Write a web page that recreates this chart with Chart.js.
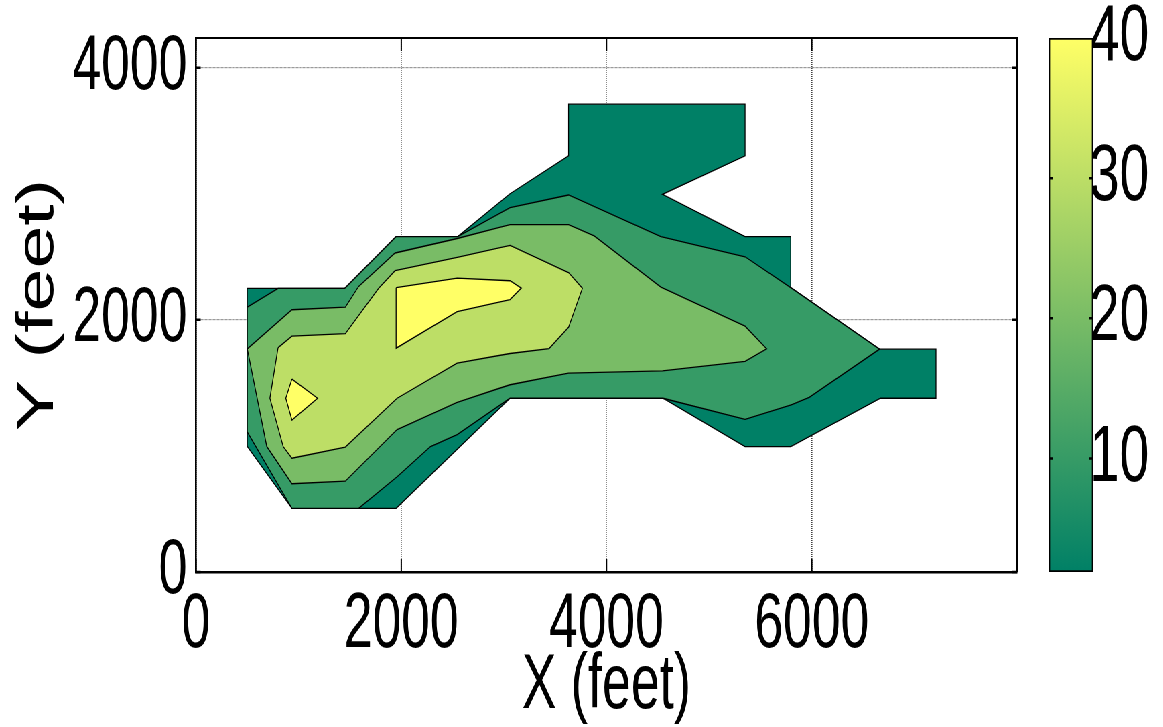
<!DOCTYPE html>
<html>
<head>
<meta charset="utf-8">
<script src="https://cdn.jsdelivr.net/npm/chart.js@4.4.1/dist/chart.umd.min.js"></script>
<style>
  html { margin: 0; padding: 0; background: #fff; overflow: hidden; width: 1163px; height: 727px; }
  body { margin: 0; padding: 0; background: #fff; width: 1163px; height: 727px; position: relative; }
  /* The figure is laid out wide and squeezed horizontally, giving the tall, narrow lettering */
  #figure { position: absolute; left: 0; top: 0; width: 1736px; height: 727px;
            transform: scaleX(0.67); transform-origin: 0 0; }
  #mainBox { position: absolute; left: 0; top: 0; width: 1540px; height: 727px; }
  #barBox  { position: absolute; left: 1540px; top: 0; width: 196px; height: 727px; }
</style>
</head>
<body>
<div id="figure">
  <div id="mainBox"><canvas id="main" width="1540" height="727"></canvas></div>
  <div id="barBox"><canvas id="cbar" width="196" height="727"></canvas></div>
</div>
<script>
// Axis limits and ticks
const X_RANGE = [0, 8000];
const Y_RANGE = [0, 4235];
const X_TICKS = [0, 2000, 4000, 6000];
const Y_TICKS = [0, 2000, 4000];
const CBAR_RANGE = [1.9, 40];
const CBAR_TICKS = [10, 20, 30, 40];

// Filled contour regions (x, y in feet). Each region holds every value at or above its level,
// so they are painted lowest level first.
const regionLevel1 = [
  [500, 2250], [1450, 2250], [1950, 2660], [2550, 2660], [3060, 3000], [3630, 3300],
  [3630, 3710], [5350, 3710], [5350, 3300], [4545, 2995], [5350, 2660], [5795, 2660],
  [5795, 2255], [6660, 1767], [7210, 1767], [7210, 1378], [6670, 1378], [5795, 995],
  [5350, 995], [4550, 1378], [3060, 1378], [1950, 505], [935, 505], [500, 995]
];
const regionLevel2 = [
  [500, 2100], [800, 2250], [1450, 2250], [1950, 2660], [2550, 2660], [3060, 2890],
  [3630, 2990], [4530, 2660], [5350, 2500], [5795, 2255], [6660, 1767], [5975, 1385],
  [5800, 1325], [5350, 1210], [4550, 1378], [3060, 1378], [2545, 1090], [2285, 995],
  [1960, 755], [1585, 505], [935, 505], [500, 1110]
];
const regionLevel3 = [
  [500, 1770], [935, 2080], [1455, 2100], [1585, 2265], [1940, 2530], [2545, 2645],
  [3060, 2755], [3630, 2755], [3880, 2665], [4530, 2260], [5350, 1950], [5560, 1770],
  [5350, 1670], [4545, 1595], [3630, 1577], [3060, 1485], [2545, 1345], [1960, 1130],
  [1455, 720], [935, 700], [690, 995]
];
const regionLevel4 = [
  [800, 1780], [935, 1870], [1455, 1890], [1780, 2250], [1940, 2390], [2545, 2495],
  [3060, 2590], [3630, 2375], [3765, 2250], [3630, 1940], [3440, 1772], [3060, 1733],
  [2545, 1656], [1960, 1378], [1455, 990], [935, 902], [850, 994], [720, 1378]
];
const regionPeakNorth = [
  [1950, 2255], [2545, 2330], [3060, 2310], [3170, 2252], [3060, 2160], [2545, 2065], [1950, 1775]
];
const regionPeakWest = [
  [935, 1530], [1185, 1378], [935, 1205], [875, 1378]
];

// summer colormap: r = t, g = 0.5 + t/2, b = 0.4
function summer(t) {
  return 'rgb(' + Math.round(255 * t) + ',' + Math.round(128 + 127 * t) + ',102)';
}
const REGION_COLORS = [summer(0), summer(0.213), summer(0.475), summer(0.74), summer(1)];

const regions = [
  { pts: regionLevel1, color: REGION_COLORS[0] },
  { pts: regionLevel2, color: REGION_COLORS[1] },
  { pts: regionLevel3, color: REGION_COLORS[2] },
  { pts: regionLevel4, color: REGION_COLORS[3] },
  { pts: regionPeakNorth, color: REGION_COLORS[4] },
  { pts: regionPeakWest, color: REGION_COLORS[4] }
];

const FONT = "'Liberation Sans', Arial, Helvetica, sans-serif";
Chart.defaults.font.family = FONT;
Chart.defaults.color = '#000';

// Closed outlines with their insides filled
const datasets = regions.map((r, i) => ({
  data: r.pts.concat([r.pts[0]]).map(p => ({ x: p[0], y: p[1] })),
  backgroundColor: r.color,
  borderColor: '#000',
  borderWidth: 1.3,
  fill: 'shape',
  pointRadius: 0,
  pointHoverRadius: 0,
  tension: 0,
  order: regions.length - i
}));

// Keep the plot box exactly where the layout padding puts it
function pinVertical(width) {
  return s => { s.width = width; s.paddingTop = 0; s.paddingBottom = 0; };
}
function pinHorizontal(height) {
  return s => { s.height = height; s.paddingLeft = 0; s.paddingRight = 0; };
}

// Box edges on top/right and MATLAB-style inward tick marks
const boxTicks = {
  id: 'boxTicks',
  afterDraw(chart) {
    const { ctx, chartArea: a, scales } = chart;
    const x = scales.x, y = scales.y;
    ctx.save();
    ctx.strokeStyle = '#000';
    ctx.lineWidth = 2;
    ctx.beginPath(); ctx.moveTo(a.left, a.top); ctx.lineTo(a.right + 1, a.top); ctx.stroke();
    ctx.lineWidth = 2.6;
    ctx.beginPath(); ctx.moveTo(a.right, a.top); ctx.lineTo(a.right, a.bottom); ctx.stroke();
    ctx.lineWidth = 2;
    X_TICKS.concat([X_RANGE[1]]).forEach(v => {
      const px = x.getPixelForValue(v);
      ctx.beginPath();
      ctx.moveTo(px, a.top); ctx.lineTo(px, a.top + 13);
      ctx.moveTo(px, a.bottom); ctx.lineTo(px, a.bottom - 13);
      ctx.stroke();
    });
    ctx.lineWidth = 2.5;
    Y_TICKS.forEach(v => {
      const py = y.getPixelForValue(v);
      ctx.beginPath();
      ctx.moveTo(a.left, py); ctx.lineTo(a.left + 7, py);
      ctx.moveTo(a.right, py); ctx.lineTo(a.right - 7, py);
      ctx.stroke();
    });
    ctx.restore();
  }
};

new Chart(document.getElementById('main'), {
  type: 'line',
  data: { datasets },
  plugins: [boxTicks],
  options: {
    responsive: false,
    animation: false,
    events: [],
    layout: { padding: { top: 38, right: 22, bottom: 0, left: 0 } },
    plugins: { legend: { display: false }, tooltip: { enabled: false } },
    scales: {
      x: {
        type: 'linear',
        position: 'bottom',
        min: X_RANGE[0],
        max: X_RANGE[1],
        z: 1,
        afterBuildTicks: s => { s.ticks = X_TICKS.map(v => ({ value: v })); },
        afterFit: pinHorizontal(155),
        ticks: {
          font: { size: 77, lineHeight: 1 },
          padding: 15,
          maxRotation: 0,
          autoSkip: false,
          callback: v => String(v)
        },
        grid: { color: 'rgba(0,0,0,0.75)', lineWidth: 1.6, drawTicks: false },
        border: { display: true, color: '#000', width: 2.4, dash: [1, 1] },
        title: {
          display: true,
          text: 'X (feet)',
          font: { size: 77, lineHeight: 1 },
          padding: { top: 0, bottom: 2 }
        }
      },
      y: {
        type: 'linear',
        position: 'left',
        min: Y_RANGE[0],
        max: Y_RANGE[1],
        z: 1,
        afterBuildTicks: s => { s.ticks = Y_TICKS.map(v => ({ value: v })); },
        afterFit: pinVertical(292.5),
        ticks: {
          font: { size: 77, lineHeight: 1 },
          padding: 13,
          autoSkip: false,
          callback: v => String(v)
        },
        grid: { color: 'rgba(0,0,0,0.65)', lineWidth: 1.2, drawTicks: false },
        border: { display: true, color: '#000', width: 2.6, dash: [1, 1] },
        title: {
          display: true,
          text: 'Y (feet)',
          font: { size: 77, lineHeight: 1 },
          padding: { top: 19, bottom: 0 }
        }
      }
    }
  }
});

// Colour bar: one floating bar spanning the data range, shaded with the colormap
const cbarTicks = {
  id: 'cbarTicks',
  afterDraw(chart) {
    const { ctx, chartArea: a, scales } = chart;
    ctx.save();
    ctx.strokeStyle = '#000';
    ctx.lineWidth = 2.5;
    CBAR_TICKS.forEach(v => {
      if (v >= CBAR_RANGE[1]) return;
      const py = scales.y.getPixelForValue(v);
      ctx.beginPath();
      ctx.moveTo(a.left, py); ctx.lineTo(a.left + 6, py);
      ctx.moveTo(a.right, py); ctx.lineTo(a.right - 6, py);
      ctx.stroke();
    });
    ctx.restore();
  }
};

new Chart(document.getElementById('cbar'), {
  type: 'bar',
  data: {
    labels: ['value'],
    datasets: [{
      data: [[CBAR_RANGE[0], CBAR_RANGE[1]]],
      backgroundColor: ctx => {
        const a = ctx.chart.chartArea;
        if (!a) return summer(0.5);
        const g = ctx.chart.ctx.createLinearGradient(0, a.bottom, 0, a.top);
        g.addColorStop(0, summer(0));
        g.addColorStop(1, summer(1));
        return g;
      },
      borderColor: '#000',
      borderWidth: 2,
      borderSkipped: false,
      barPercentage: 1,
      categoryPercentage: 1
    }]
  },
  plugins: [cbarTicks],
  options: {
    responsive: false,
    animation: false,
    events: [],
    layout: { padding: { top: 38, right: 0, bottom: 155, left: 25.7 } },
    plugins: { legend: { display: false }, tooltip: { enabled: false } },
    scales: {
      x: { display: false },
      y: {
        position: 'right',
        min: CBAR_RANGE[0],
        max: CBAR_RANGE[1],
        afterBuildTicks: s => { s.ticks = CBAR_TICKS.map(v => ({ value: v })); },
        afterFit: pinVertical(104.7),
        ticks: { font: { size: 80, lineHeight: 1 }, padding: -5, autoSkip: false },
        grid: { display: false, drawTicks: false },
        border: { display: false }
      }
    }
  }
});
</script>
</body>
</html>
